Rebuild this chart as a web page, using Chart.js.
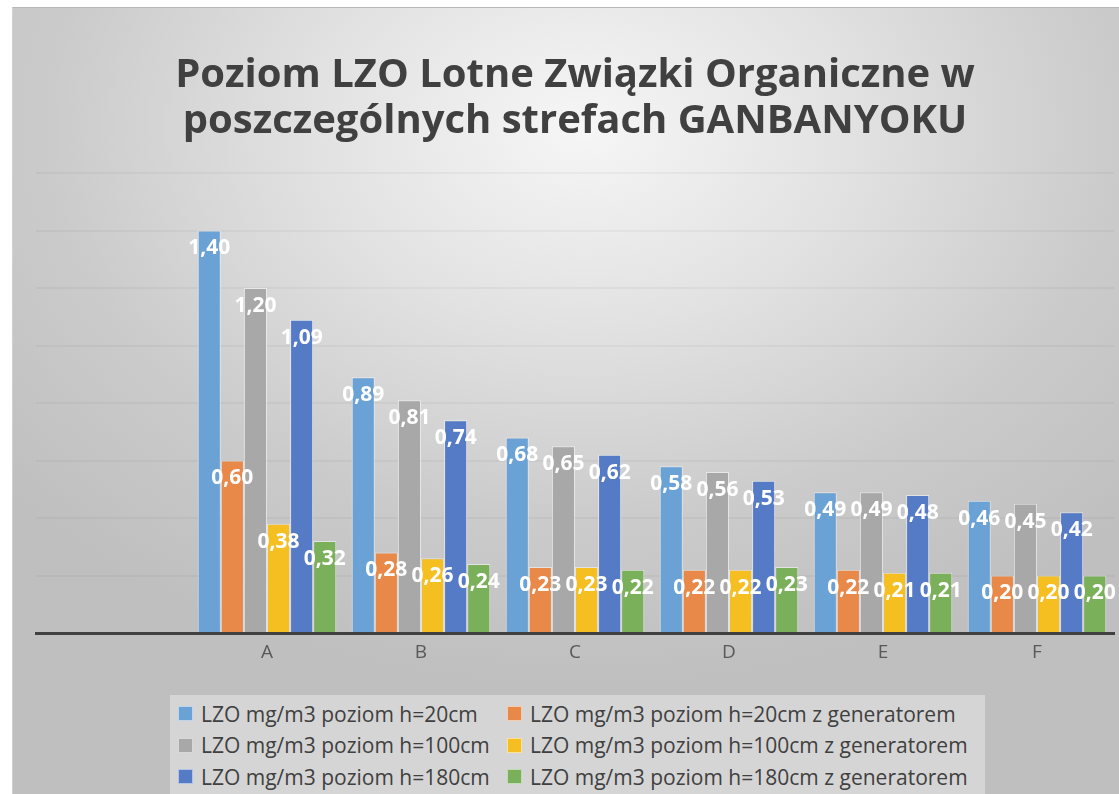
<!DOCTYPE html>
<html>
<head>
<meta charset="utf-8">
<script src="https://cdn.jsdelivr.net/npm/chart.js@4"></script>
<style>
  html, body { margin: 0; padding: 0; background: #fff; }
  #wrap { position: relative; width: 1119px; height: 794px; overflow: hidden; }
  #bg {
    position: absolute; left: 12px; top: 7px; right: 0; bottom: 0;
    background: radial-gradient(ellipse 760px 560px at 570px 120px, #f6f6f6 0%, #e2e2e2 35%, #cbcbcb 70%, #bfbfbf 100%);
    border-top: 1px solid #b8b8b8; border-left: 1px solid #d0d0d0;
  }
  #myChart { position: absolute; left: 0; top: 0; }
  #legend {
    position: absolute; left: 170px; top: 695px; width: 815px; height: 99px;
    background: #d5d5d5; box-sizing: border-box; padding: 3px 0 0 8px;
    display: grid; grid-template-columns: 329px auto; grid-auto-rows: 31.5px;
    font-family: "Open Sans", sans-serif; font-size: 21px; color: #404040;
  }
  .item { display: flex; align-items: center; white-space: nowrap; }
  .sw { width: 13px; height: 13px; margin-right: 8px; border: 1px solid rgba(255,255,255,0.55); }
</style>
</head>
<body>
<div id="wrap">
  <div id="bg"></div>
  <canvas id="myChart" width="1119" height="794"></canvas>
  <div id="legend"></div>
</div>
<script>
// kategorie (pierwsza pusta - tak jest w oryginale)
const strefy = ['', 'A', 'B', 'C', 'D', 'E', 'F'];

const h20 = [null, 1.40, 0.89, 0.68, 0.58, 0.49, 0.46];
const h20gen = [null, 0.60, 0.28, 0.23, 0.22, 0.22, 0.20];
const h100 = [null, 1.20, 0.81, 0.65, 0.56, 0.49, 0.45];
const h100gen = [null, 0.38, 0.26, 0.23, 0.22, 0.21, 0.20];
const h180 = [null, 1.09, 0.74, 0.62, 0.53, 0.48, 0.42];
const h180gen = [null, 0.32, 0.24, 0.22, 0.23, 0.21, 0.20];

const nazwy = [
    'LZO mg/m3 poziom h=20cm',
    'LZO mg/m3 poziom h=20cm z generatorem',
    'LZO mg/m3 poziom h=100cm',
    'LZO mg/m3 poziom h=100cm z generatorem',
    'LZO mg/m3 poziom h=180cm',
    'LZO mg/m3 poziom h=180cm z generatorem'
];
const kolory = ['#6aa2d6', '#e8894a', '#a8a8a8', '#f5bf21', '#567bc6', '#7bb05a'];
const serie = [h20, h20gen, h100, h100gen, h180, h180gen];

const datasets = serie.map((s, i) => ({
    label: nazwy[i],
    data: s,
    backgroundColor: kolory[i],
    borderColor: 'rgba(255,255,255,0.5)',
    borderWidth: 1,
    categoryPercentage: 0.9,
    barPercentage: 1.0
}));

// etykiety wartosci (biale, w srodku slupka przy gorze)
const etykiety = {
    id: 'etykiety',
    afterDatasetsDraw(chart) {
        const ctx = chart.ctx;
        ctx.save();
        ctx.font = 'bold 21px "Open Sans"';
        ctx.fillStyle = '#ffffff';
        ctx.textAlign = 'center';
        ctx.textBaseline = 'middle';
        chart.data.datasets.forEach((ds, i) => {
            chart.getDatasetMeta(i).data.forEach((bar, j) => {
                const v = ds.data[j];
                if (v == null) return;
                ctx.fillText(v.toFixed(2).replace('.', ','), bar.x, bar.y + 18);
            });
        });
        ctx.restore();
    }
};

const ctx = document.getElementById('myChart');
new Chart(ctx, {
    type: 'bar',
    data: { labels: strefy, datasets: datasets },
    plugins: [etykiety],
    options: {
        responsive: false,
        animation: false,
        devicePixelRatio: 1,
        layout: { padding: { top: 53, left: 36, right: 5, bottom: 121 } },
        plugins: {
            legend: { display: false },
            tooltip: { enabled: false },
            title: {
                display: true,
                text: ['Poziom LZO Lotne Związki Organiczne w', 'poszczególnych strefach GANBANYOKU'],
                color: '#404040',
                font: { family: 'Open Sans', size: 40, weight: 'bold', lineHeight: 1.15 },
                padding: { top: 0, bottom: 28 }
            }
        },
        scales: {
            x: {
                grid: { display: false, drawTicks: false },
                border: { display: true, color: '#404040', width: 3 },
                ticks: { color: '#595959', font: { family: 'Open Sans', size: 19 }, padding: 8 },
                afterFit: s => { s.height = 40; }
            },
            y: {
                min: 0,
                max: 1.6,
                ticks: { display: false, stepSize: 0.2 },
                border: { display: false },
                grid: { color: 'rgba(0,0,0,0.035)', lineWidth: 2, drawTicks: false },
                afterFit: s => { s.width = 0; }
            }
        }
    }
});

// legenda
const leg = document.getElementById('legend');
nazwy.forEach((n, i) => {
    const d = document.createElement('div');
    d.className = 'item';
    d.innerHTML = `<span class="sw" style="background:${kolory[i]}"></span>${n}`;
    leg.appendChild(d);
});
</script>
</body>
</html>
